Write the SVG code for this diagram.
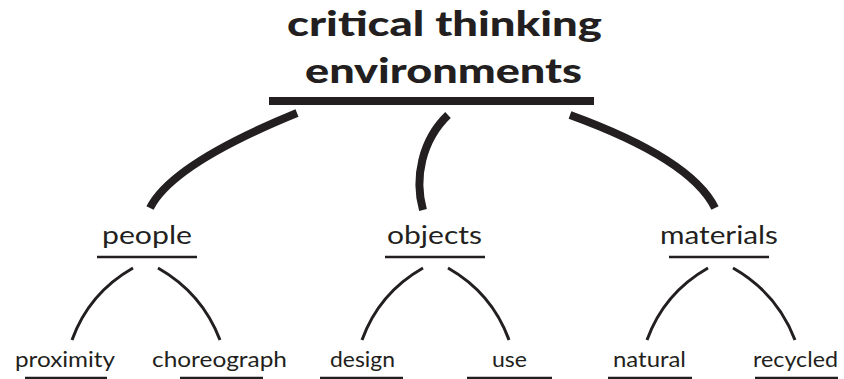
<svg xmlns="http://www.w3.org/2000/svg" width="844" height="379" viewBox="0 0 844 379">
<style>
text{font-family:Lato,"Open Sans","Liberation Sans",sans-serif;fill:#231f20;text-anchor:middle}
.title{font-size:34px;font-weight:900}
.mid{font-size:25px}
.leaf{font-size:21px}
.thick{fill:none;stroke:#231f20;stroke-width:8}
.thin{fill:none;stroke:#231f20;stroke-width:3}
.ul{stroke:#231f20;stroke-width:2.5}
</style>
<rect width="844" height="379" fill="#fff"/>
<g id="root">
<text class="title" x="444.5" y="36" textLength="315" lengthAdjust="spacingAndGlyphs">critical thinking</text>
<text class="title" x="443.5" y="83" textLength="277" lengthAdjust="spacingAndGlyphs">environments</text>
<rect x="269" y="97" width="325" height="8" fill="#231f20"/>
</g>
<g id="connectors">
<path class="thick" d="M297,113 Q172,164 150,208"/>
<path class="thick" d="M448,115 C422,140 414,178 423,210"/>
<path class="thick" d="M570,115 Q691,159 715,208"/>
<path class="thin" d="M133,268 Q89,293 72,340"/>
<path class="thin" d="M158,268 Q202,293 220,340"/>
<path class="thin" d="M423,268 Q379,293 362,340"/>
<path class="thin" d="M448,268 Q492,293 509,340"/>
<path class="thin" d="M708,268 Q664,293 647,340"/>
<path class="thin" d="M733,268 Q777,293 795,340"/>
</g>
<g id="people">
<text class="mid" x="147" y="244" textLength="90" lengthAdjust="spacingAndGlyphs">people</text>
<line class="ul" x1="97" y1="257" x2="197" y2="257"/>
</g>
<g id="objects">
<text class="mid" x="434.5" y="244" textLength="95" lengthAdjust="spacingAndGlyphs">objects</text>
<line class="ul" x1="385" y1="257" x2="485" y2="257"/>
</g>
<g id="materials">
<text class="mid" x="719" y="244" textLength="118" lengthAdjust="spacingAndGlyphs">materials</text>
<line class="ul" x1="669" y1="257" x2="769" y2="257"/>
</g>
<g id="proximity">
<text class="leaf" x="65" y="367" textLength="100" lengthAdjust="spacingAndGlyphs">proximity</text>
<line class="ul" x1="25" y1="378" x2="107" y2="378"/>
</g>
<g id="choreograph">
<text class="leaf" x="219.5" y="367" textLength="135" lengthAdjust="spacingAndGlyphs">choreograph</text>
<line class="ul" x1="180" y1="378" x2="263" y2="378"/>
</g>
<g id="design">
<text class="leaf" x="362.5" y="367" textLength="65" lengthAdjust="spacingAndGlyphs">design</text>
<line class="ul" x1="320" y1="378" x2="403" y2="378"/>
</g>
<g id="use">
<text class="leaf" x="509.5" y="367" textLength="35" lengthAdjust="spacingAndGlyphs">use</text>
<line class="ul" x1="467" y1="378" x2="552" y2="378"/>
</g>
<g id="natural">
<text class="leaf" x="649.5" y="367" textLength="73" lengthAdjust="spacingAndGlyphs">natural</text>
<line class="ul" x1="608" y1="378" x2="692" y2="378"/>
</g>
<g id="recycled">
<text class="leaf" x="795.5" y="367" textLength="85" lengthAdjust="spacingAndGlyphs">recycled</text>
<line class="ul" x1="755" y1="378" x2="838" y2="378"/>
</g>
</svg>
